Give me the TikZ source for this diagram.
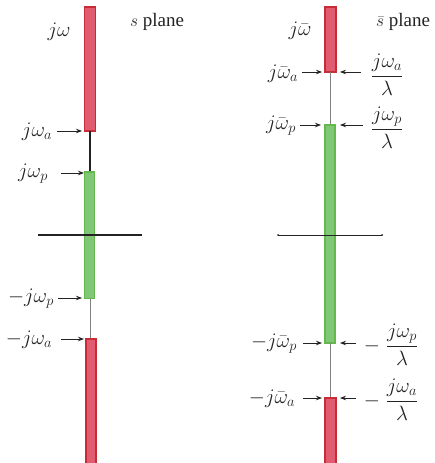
\documentclass[tikz,border=0pt]{standalone}
\usepackage{amsmath}
\usepackage{fontspec}
\setmainfont{Liberation Serif}
\usetikzlibrary{arrows.meta,calc}
\definecolor{redfill}{RGB}{226,92,112}
\definecolor{redline}{RGB}{200,45,55}
\definecolor{greenfill}{RGB}{128,200,120}
\definecolor{greenline}{RGB}{100,185,75}
\definecolor{txt}{RGB}{35,35,35}
\begin{document}
\begin{tikzpicture}[x=1pt,y=-1pt,
  redbar/.style={fill=redfill,draw=redline,line width=1.3pt},
  greenbar/.style={fill=greenfill,draw=greenline,line width=1.3pt},
  lab/.style={inner sep=0pt,text=txt,font=\fontsize{19}{22}\selectfont},
  mlab/.style={inner sep=0pt,text=txt,font=\fontsize{21}{24}\selectfont},
  arr/.style={-{Stealth[length=6pt,width=4.5pt]},line width=0.8pt,draw=txt},
  axisline/.style={line width=1.3pt,draw=txt},
  thin/.style={line width=0.6pt,draw=gray}]
\useasboundingbox (0,0) rectangle (435,463);
% ---------- s plane ----------
\draw[redbar] (84.5,7) rectangle (95.5,131);
\draw[line width=1.3pt,draw=txt] (90,131) -- (90,172);
\draw[greenbar] (84.5,172) rectangle (94.5,298.5);
\draw[thin] (90,298.5) -- (90,339);
\draw[redbar] (86,339) rectangle (96,470);
\draw[axisline] (38,235) -- (142,235);
\coordinate (ta) at (82,131);
\coordinate (tp) at (84,173);
\coordinate (tmp) at (82,298);
\coordinate (tma) at (84,339);
\node[mlab] (lw) at (59,32) {$j\omega$};
\node[lab] (ls) at (157,22) {$s$ plane};
\node[mlab] (la) at (37,132) {$j\omega_a$};
\node[mlab] (lp) at (33,174) {$j\omega_p$};
\node[mlab] (lmp) at (31,299) {$-j\omega_p$};
\node[mlab] (lma) at (29,340) {$-j\omega_a$};
\draw[arr,shorten <=5pt] (la.east |- ta) -- (ta);
\draw[arr,shorten <=13pt] (lp.east |- tp) -- (tp);
\draw[arr,shorten <=4pt] (lmp.east |- tmp) -- (tmp);
\draw[arr,shorten <=9pt] (lma.east |- tma) -- (tma);
% ---------- s-bar plane ----------
\draw[redbar] (325,7) rectangle (336,72);
\draw[thin] (330.5,72) -- (330.5,125);
\draw[greenbar] (325,125) rectangle (335,343);
\draw[thin] (330,343) -- (330,398);
\draw[redbar] (325,398) rectangle (336,470);
\draw[line width=0.9pt,draw=txt] (278,235) -- (382,235);
\fill[txt] (278,235) circle (1pt) (382,235) circle (1pt);
\coordinate (ra) at (322,72);
\coordinate (rp) at (321,125);
\coordinate (rmp) at (322,343);
\coordinate (rma) at (322,398);
\coordinate (qa) at (340,72);
\coordinate (qp) at (340,125);
\coordinate (qmp) at (340,343);
\coordinate (qma) at (340,398);
\node[mlab] (bw) at (300,31) {$j\bar{\omega}$};
\node[lab] (bs) at (403,22) {$\bar{s}$ plane};
\node[mlab] (ba) at (283,74) {$j\bar{\omega}_a$};
\node[mlab] (bp) at (281,126) {$j\bar{\omega}_p$};
\node[mlab] (bmp) at (274,344) {$-j\bar{\omega}_p$};
\node[mlab] (bma) at (272,399) {$-j\bar{\omega}_a$};
\node[mlab] (fa) at (387,75) {$\dfrac{j\omega_a}{\lambda}$};
\node[mlab] (fp) at (387,128) {$\dfrac{j\omega_p}{\lambda}$};
\node[mlab] (fmp) at (391,345) {$-\;\dfrac{j\omega_p}{\lambda}$};
\node[mlab] (fma) at (391,400) {$-\;\dfrac{j\omega_a}{\lambda}$};
\draw[arr,shorten <=4pt] (ba.east |- ra) -- (ra);
\draw[arr,shorten <=4pt] (bp.east |- rp) -- (rp);
\draw[arr,shorten <=6pt] (bmp.east |- rmp) -- (rmp);
\draw[arr,shorten <=8pt] (bma.east |- rma) -- (rma);
\draw[arr,shorten <=10pt] (fa.west |- qa) -- (qa);
\draw[arr,shorten <=8pt] (fp.west |- qp) -- (qp);
\draw[arr,shorten <=8pt] (fmp.west |- qmp) -- (qmp);
\draw[arr,shorten <=8pt] (fma.west |- qma) -- (qma);
\end{tikzpicture}
\end{document}
